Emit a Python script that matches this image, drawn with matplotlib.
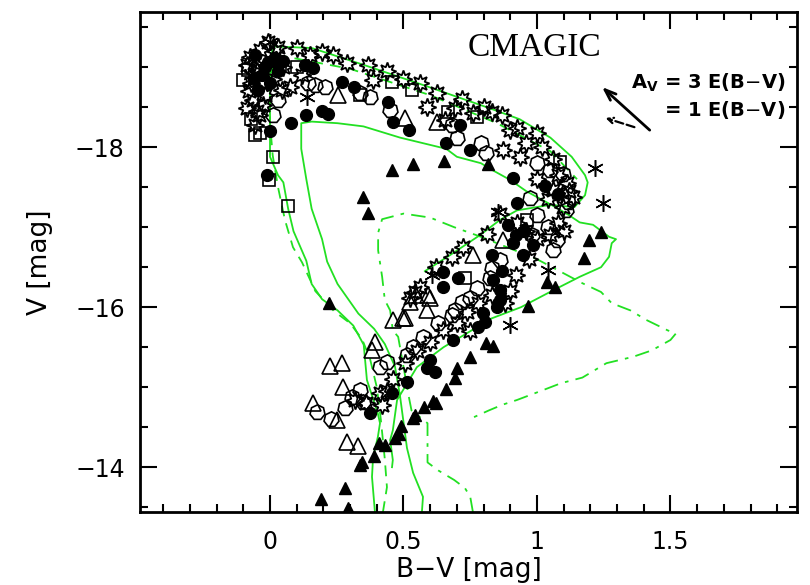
import matplotlib
matplotlib.use("Agg")
import matplotlib.pyplot as plt
from matplotlib.ticker import MultipleLocator

# ---------------- data (B-V, V) ----------------
filled_circle_x = [-0.056, 0.019, -0.007, -0.03, -0.045, 0.05, -0.02, -0.06, 0.0, 0.03, 0.131, 0.161, 0.27, 0.315, 0.442,
                   0.462, 0.52, 0.66, 0.75, 0.71, 0.91, 1.03, 1.08, 0.925, 0.891, 0.91, 0.985, 0.831,
                   0.948, 0.95, 0.92, 0.87, 0.648, 0.704, 0.648, 0.835, 0.861, 0.861, 0.85, 0.798,
                   0.805, 0.779, 0.685, 0.6, 0.588, 0.618, 0.513, 0.457, 0.375, 0.079, 0.135, 0.195,
                   0.217, 0.0, -0.01]
filled_circle_y = [-19.15, -19.11, -19.06, -18.9, -18.71, -19.08, -19.0, -18.85, -18.8, -18.95, -19.03, -18.99, -18.81, -18.75, -18.56,
                   -18.31, -18.21, -18.05, -17.97, -18.28, -17.61, -17.52, -17.42, -17.3, -17.03, -16.8, -16.78, -16.65,
                   -16.65, -16.95, -16.9, -16.45, -16.44, -16.36, -16.25, -16.34, -16.21, -16.09, -16.0, -15.93,
                   -15.81, -15.75, -15.59, -15.34, -15.24, -15.19, -15.06, -14.93, -14.68, -18.3, -18.4, -18.45,
                   -18.41, -18.2, -17.65]

filled_tri_x = [0.458, 0.536, 0.653, 0.818, 0.347, 0.366, 0.222, 1.241, 1.194, 1.175, 1.036, 1.068, 0.968,
                0.808, 0.834, 0.75, 0.701, 0.692, 0.658, 0.62, 0.61, 0.575, 0.543, 0.536, 0.491, 0.483,
                0.468, 0.429, 0.408, 0.39, 0.345, 0.337, 0.281, 0.191, 0.292]
filled_tri_y = [-17.72, -17.79, -17.83, -17.79, -17.38, -17.18, -16.05, -16.94, -16.84, -16.62, -16.32, -16.25, -16.01,
                -15.55, -15.52, -15.38, -15.24, -15.12, -14.98, -14.8, -14.83, -14.75, -14.65, -14.61, -14.51, -14.42,
                -14.37, -14.28, -14.3, -14.14, -14.06, -14.03, -13.74, -13.6, -13.49]

open_tri_x = [0.255, 0.506, 0.625, 0.524, 0.545, 0.592, 0.588, 0.6, 0.461, 0.498, 0.393, 0.382, 0.225, 0.27,
              0.273, 0.161, 0.251, 0.288, 0.33, 0.76, 0.873, 0.506]
open_tri_y = [-18.65, -18.36, -18.31, -16.06, -16.15, -16.15, -15.96, -16.11, -15.84, -15.86, -15.56, -15.46, -15.27, -15.3,
              -15.0, -14.8, -14.59, -14.31, -14.27, -16.65, -16.84, -15.86]

hex_x = [0.142, 0.169, 0.206, 0.03, 0.011, 0.375, 0.337, 0.449, 0.7, 0.68, 0.79, 0.81, 1.0, 1.05, 1.097, 0.974,
         1.116, 1.11, 1.075, 1.06, 1.0, 1.04, 0.98, 0.86, 0.831, 0.824, 0.775, 0.749, 0.719, 0.693, 0.68, 0.63,
         0.573, 0.536, 0.513, 0.438, 0.412, 0.337, 0.307, 0.28, 0.176, 0.35, 0.23]
hex_y = [-18.8, -18.78, -18.75, -18.59, -18.4, -18.63, -18.68, -18.46, -18.11, -18.28, -18.05, -17.93, -17.8, -17.71, -17.67, -17.37,
         -17.31, -17.21, -16.84, -16.71, -17.15, -17.0, -16.9, -16.59, -16.49, -16.37, -16.24, -16.12, -16.06, -15.96, -15.9, -15.8,
         -15.63, -15.5, -15.4, -15.31, -15.25, -14.96, -14.88, -14.74, -14.69, -14.82, -14.6]

square_x = [-0.082, -0.1, -0.072, -0.055, -0.037, 0.01, -0.004, 0.068, 0.039, 0.457, 0.532, 0.667, 0.775, 0.337,
            1.086, 0.73, 0.963, 0.1]
square_y = [-18.96, -18.84, -18.35, -18.15, -18.18, -17.88, -17.59, -17.27, -19.03, -18.81, -18.71, -18.44, -18.38, -18.65,
            -17.81, -16.36, -17.09, -19.0]

star_x = [-0.007, -0.037, -0.075, 0.1, 0.15, 0.195, 0.236, 0.075, -0.03, -0.064, -0.026, -0.056, -0.086, -0.086,
          0.045, 0.02, -0.05, -0.07, 0.0, 0.05, -0.04, -0.02, 0.03, -0.06, 0.12, -0.08, -0.05, 0.01,
          0.29, 0.367, 0.386, 0.44, 0.5, 0.56, 0.625, 0.588, 0.655, 0.693, 0.76, 0.72, 0.8, 0.831, 0.87, 0.925,
          1.0, 0.936, 0.96, 1.02, 1.06, 1.112, 1.135, 1.06, 1.097, 0.9, 0.873, 1.08, 1.12, 1.0, 1.04,
          0.861, 0.813, 0.723, 0.68, 0.524, 0.56, 0.62, 0.738, 0.925, 0.96, 1.0, 1.05, 1.08, 1.1, 0.97, 0.92,
          0.9, 0.88, 0.83, 0.78, 0.75, 0.7, 0.648, 0.6, 0.506, 0.55, 0.46, 0.412, 0.318, 0.419, 0.36, 0.44, 0.543]
star_y = [-19.31, -19.21, -19.13, -19.24, -19.15, -19.19, -19.15, -18.75, -18.8, -18.59, -18.53, -18.28, -18.49, -19.03,
          -18.71, -19.2, -18.95, -18.8, -18.95, -19.0, -18.4, -18.65, -19.25, -19.05, -18.9, -18.7, -18.45, -18.85,
          -19.05, -19.03, -18.84, -18.95, -18.85, -18.8, -18.68, -18.5, -18.34, -18.49, -18.43, -18.6, -18.5, -18.44, -18.4, -18.24,
          -18.18, -17.88, -18.05, -18.0, -17.85, -17.55, -17.38, -17.46, -17.25, -18.21, -17.96, -17.65, -17.45, -17.6, -17.35,
          -17.17, -16.92, -16.75, -16.63, -16.11, -16.25, -16.5, -15.94, -17.05, -16.95, -16.85, -16.9, -17.05, -16.95, -16.6, -16.4,
          -16.2, -16.05, -16.15, -16.05, -15.7, -15.8, -15.71, -15.56, -15.3, -15.45, -15.1, -14.93, -14.84, -14.78, -14.8, -14.95, -16.19]

aster_x = [0.139, 1.218, 1.247, 1.04, 0.9, 0.854, 0.607, 0.0, -0.07, 0.02]
aster_y = [-18.63, -17.74, -17.3, -16.46, -15.78, -17.19, -16.4, -19.32, -18.9, -19.05]

# model curves (green)
g1_x = [0.393, 0.382, 0.386, 0.404, 0.412, 0.404, 0.363, 0.351, 0.312, 0.253, 0.195, 0.156, 0.136, 0.088, 0.068,
        0.05, 0.03, 0.0, 0.0, 0.0, 0.01, 0.156, 0.35, 0.58, 0.82, 0.935, 1.05, 1.13, 1.18, 1.19, 1.18, 1.14,
        1.05, 0.925, 0.861, 0.786, 0.674, 0.58]
g1_y = [-13.44, -13.88, -14.12, -14.38, -14.55, -14.67, -15.09, -15.53, -15.77, -15.96, -16.1, -16.29, -16.58, -16.95, -17.23,
        -17.56, -17.65, -17.88, -18.16, -18.9, -19.26, -19.24, -19.03, -18.77, -18.49, -18.35, -18.12, -17.88, -17.65, -17.56, -17.4, -17.25,
        -17.28, -17.21, -17.09, -16.9, -16.65, -16.45]

g2_x = [0.569, 0.573, 0.536, 0.513, 0.487, 0.468, 0.43, 0.39, 0.331, 0.253, 0.214, 0.195, 0.156, 0.136, 0.117,
        0.117, 0.156, 0.253, 0.35, 0.487, 0.66, 0.70, 0.79, 0.835, 0.9, 0.96, 1.075, 1.12, 1.16, 1.21, 1.27,
        1.296, 1.28, 1.27, 1.24, 1.16, 1.06, 0.94, 0.83, 0.75, 0.65, 0.55, 0.476, 0.46, 0.45, 0.46, 0.457]
g2_y = [-13.44, -13.63, -13.93, -14.24, -14.89, -15.26, -15.54, -15.73, -15.92, -16.29, -16.57, -16.85, -17.23, -17.6, -17.98,
        -18.3, -18.32, -18.3, -18.26, -18.12, -17.98, -17.88, -17.8, -17.71, -17.59, -17.45, -17.24, -17.15, -17.06, -17.03, -16.88,
        -16.85, -16.8, -16.63, -16.5, -16.38, -16.21, -16.0, -15.86, -15.7, -15.5, -15.25, -14.84, -14.46, -14.34, -14.09, -14.0]

g3_x = [0.423, 0.438, 0.43, 0.415, 0.40, 0.375, 0.345, 0.30, 0.24, 0.17, 0.12, 0.086, 0.056, 0.03, 0.01, 0.0,
        0.0, 0.03, 0.3, 0.6, 0.85, 1.05, 1.15]
g3_y = [-13.44, -13.75, -14.1, -14.6, -15.0, -15.35, -15.6, -15.8, -15.95, -16.2, -16.56, -16.75, -17.09, -17.5, -17.9, -18.3,
        -18.9, -19.15, -18.98, -18.65, -18.3, -17.95, -17.6]

g4_x = [0.76, 0.75, 0.73, 0.69, 0.63, 0.59, 0.59, 0.59, 0.53, 0.52, 0.48, 0.46, 0.45, 0.43, 0.42, 0.405, 0.405,
        0.42, 0.5, 0.6, 0.69, 0.79, 1.0, 1.17, 1.24, 1.28, 1.35, 1.41, 1.49, 1.52, 1.50, 1.43, 1.36, 1.26,
        1.17, 1.09, 1.02, 0.925, 0.87, 0.82, 0.74]
g4_y = [-13.44, -13.63, -13.74, -13.84, -13.96, -14.06, -14.34, -14.55, -14.71, -14.88, -15.63, -15.71, -15.96, -16.09, -16.38, -16.71, -16.93,
        -17.1, -17.17, -17.12, -17.0, -16.88, -16.6, -16.3, -16.19, -16.05, -15.96, -15.84, -15.71, -15.67, -15.59, -15.46, -15.38, -15.3,
        -15.12, -15.05, -14.96, -14.84, -14.78, -14.71, -14.59]

x_ticks = [0, 0.5, 1, 1.5]
x_tick_labels = ["0", "0.5", "1", "1.5"]
y_ticks = [-18, -16, -14]
y_tick_labels = ["\u221218", "\u221216", "\u221214"]

# ---------------- figure ----------------
fig = plt.figure(figsize=(8.1, 5.85), dpi=100)
ax = fig.add_axes([140/810, 1-512/585, 657/810, 500/585])

green = "#22e022"
ax.plot(g1_x, g1_y, color=green, lw=1.3, ls="-", zorder=1)
ax.plot(g2_x, g2_y, color=green, lw=1.3, ls="-", zorder=1)
ax.plot(g3_x, g3_y, color=green, lw=1.3, ls=(0, (6, 4)), zorder=1)
ax.plot(g4_x, g4_y, color=green, lw=1.3, ls=(0, (8, 4, 2, 4)), zorder=1)

k = "black"
ax.plot(hex_x, hex_y, ls="none", marker=(7, 0, 0), ms=11, mfc="none", mec=k, mew=1.2, zorder=3)
ax.plot(open_tri_x, open_tri_y, ls="none", marker="^", ms=11, mfc="none", mec=k, mew=1.2, zorder=3)
ax.plot(square_x, square_y, ls="none", marker="s", ms=8.5, mfc="none", mec=k, mew=1.2, zorder=3)
ax.plot(star_x, star_y, ls="none", marker=(8, 1, 0), ms=13, mfc="none", mec=k, mew=1.3, zorder=3)
ax.plot(aster_x, aster_y, ls="none", marker=(6, 2, 0), ms=12, mec=k, mew=1.1, zorder=3)
ax.plot(filled_circle_x, filled_circle_y, ls="none", marker="o", ms=8.5, mfc=k, mec=k, zorder=4)
ax.plot(filled_tri_x, filled_tri_y, ls="none", marker="^", ms=8, mfc=k, mec=k, zorder=4)

ax.set_xlim(-0.487, 1.974)
ax.set_ylim(-13.44, -19.69)

ax.set_xticks(x_ticks)
ax.set_xticklabels(x_tick_labels)
ax.set_yticks(y_ticks)
ax.set_yticklabels(y_tick_labels)
ax.xaxis.set_minor_locator(MultipleLocator(0.1))
ax.yaxis.set_minor_locator(MultipleLocator(0.5))
ax.tick_params(which="both", direction="in", top=True, right=True, width=1.5)
ax.tick_params(which="major", length=12, labelsize=17)
ax.tick_params(axis="x", which="major", pad=13)
ax.tick_params(axis="y", which="major", pad=11)
ax.tick_params(which="minor", length=6)
for s in ax.spines.values():
    s.set_linewidth(2)

ax.set_xlabel("B\u2212V [mag]", fontsize=19, labelpad=2)
ax.set_ylabel("V [mag]", fontsize=19, labelpad=16)

ax.text(0.99, -19.24, "CMAGIC", family="Liberation Serif", fontsize=24, ha="center", va="center")
ax.text(1.93, -18.81, r"A$_\mathbf{V}$ = 3 E(B$-$V)", fontsize=14, weight="bold", ha="right", va="center")
ax.text(1.93, -18.46, r"= 1 E(B$-$V)", fontsize=14, weight="bold", ha="right", va="center")

ax.annotate("", xy=(1.236, -18.775), xytext=(1.43, -18.19),
            arrowprops=dict(arrowstyle="->,head_length=0.8,head_width=0.3", lw=2, color="k"))
ax.annotate("", xy=(1.247, -18.375), xytext=(1.375, -18.24),
            arrowprops=dict(arrowstyle="->,head_length=0.4,head_width=0.2", lw=1.6, color="k", ls="--"))

fig.savefig("out.png", dpi=100)
